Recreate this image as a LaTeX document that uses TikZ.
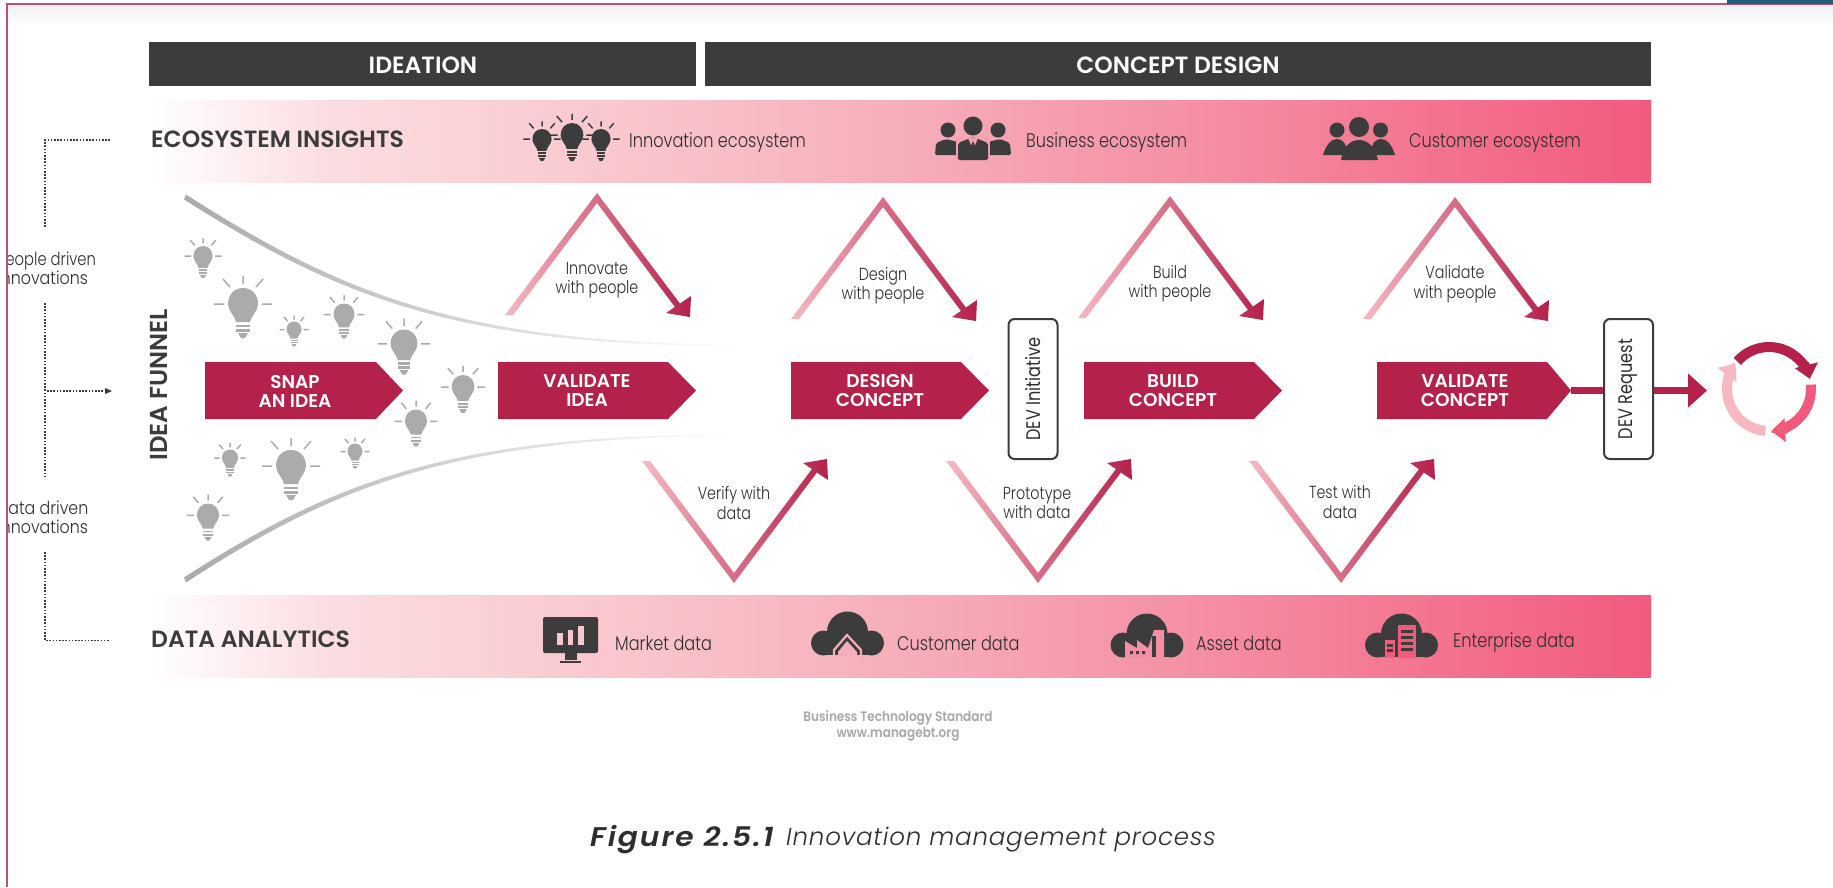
\documentclass[tikz,border=0pt]{standalone}
\usepackage{fontspec}
\usetikzlibrary{arrows.meta}
\setmainfont{Poppins}
\newfontfamily\lightf{Poppins Light}[FakeStretch=0.82]
\newfontfamily\sidef{Poppins Light}[FakeStretch=0.88]
\newfontfamily\regf{Poppins}[FakeStretch=0.82]
\newfontfamily\boldf{Poppins SemiBold}[FakeStretch=0.88]
\newfontfamily\headf{Poppins SemiBold}[FakeStretch=1.0]
\newfontfamily\capb{Poppins SemiBold Italic}[FakeStretch=1.1,LetterSpace=7]
\newfontfamily\capi{Poppins Light Italic}[LetterSpace=3.3]
\definecolor{crim}{HTML}{B4214A}
\definecolor{dark}{HTML}{3C3C3C}
\definecolor{ink}{HTML}{2E2E2E}
\definecolor{bulbg}{HTML}{ABABAB}
\definecolor{frameC}{HTML}{B5527F}
\definecolor{tabC}{HTML}{1F5F78}
\definecolor{F9C8CE}{HTML}{F9C8CE}
\definecolor{FBDDE1}{HTML}{FBDDE1}
\definecolor{F6AEBA}{HTML}{F6AEBA}
\definecolor{F58FA3}{HTML}{F58FA3}
\definecolor{F25A7C}{HTML}{F25A7C}
\definecolor{F7B8C2}{HTML}{F7B8C2}
\definecolor{DC6C86}{HTML}{DC6C86}
\definecolor{C4C4C4}{HTML}{C4C4C4}
\definecolor{A8A8A8}{HTML}{A8A8A8}
\definecolor{F0F0F0}{HTML}{F0F0F0}
\definecolor{bizcut}{HTML}{F5A0B0}
\pgfdeclarehorizontalshading{bandshade}{100bp}{color(0bp)=(white);color(25bp)=(white);color(31bp)=(FBDDE1);color(40bp)=(F9C8CE);color(50bp)=(F6AEBA);color(60bp)=(F58FA3);color(75bp)=(F25A7C);color(100bp)=(F25A7C)}
\tikzset{
  headbar/.style={fill=dark},
  headtext/.style={text=white,font=\headf\fontsize{23.5}{26}\selectfont},
  rowtext/.style={text=dark,anchor=west,font=\headf\fontsize{23.5}{26}\selectfont},
  icontext/.style={text=ink,anchor=west,font=\lightf\fontsize{19.7}{22}\selectfont},
  lbl/.style={text=ink,align=center,font=\lightf\fontsize{17.5}{19.5}\selectfont},
  sidelbl/.style={text=ink,align=left,anchor=west,font=\sidef\fontsize{18}{19.5}\selectfont},
  chevtext/.style={text=white,align=center,font=\headf\fontsize{18.5}{19}\selectfont},
  devbox/.style={draw=dark,line width=2,fill=white,rounded corners=6,minimum width=140,minimum height=49,rotate=90,inner sep=0,text=ink,font=\regf\fontsize{19.7}{24}\selectfont},
  dots/.style={draw=dark,line width=1.6,dash pattern=on 1.6 off 1.6},
  ico/.style={fill=dark,draw=none},
}
\newcommand{\chev}[6]{%
  \fill[crim] (#2,362) -- (#3,362) -- (#4,390.5) -- (#3,419) -- (#2,419) -- cycle;
  \coordinate (#1tip) at (#4,390.5);
  \node[chevtext] (#1) at (#5,391) {#6};
}
\newcommand{\zig}[3]{%
  \begin{scope}[shift={(#1,#2)},yscale=#3]
  \shade[left color=F7B8C2,middle color=DC6C86,right color=crim]
    (0,0) -- (82.9,110.5) -- (94,103) -- (93,124) -- (69,120) -- (77.9,113.9) -- (0,10)
    -- (-84,122) -- (-92,122) -- cycle;
  \end{scope}
}
\newcommand{\bulb}[4]{%
  \begin{scope}[shift={(#1,#2)},scale=#3/50]
  \fill[#4] (0,-25) .. controls (9,-25) and (15,-18) .. (15,-9) .. controls (15,-2) and (8,3) .. (7,9)
     -- (-7,9) .. controls (-8,3) and (-15,-2) .. (-15,-9) .. controls (-15,-18) and (-9,-25) .. (0,-25) -- cycle;
  \fill[#4] (-7,11.5) rectangle (7,14);
  \fill[#4] (-7,16) rectangle (7,18.5);
  \fill[#4] (-5,20) -- (5,20) -- (2,25) -- (-2,25) -- cycle;
  \draw[#4,line width=1.5] (0,-37) -- (0,-29) (13,-26) -- (20,-34) (-13,-26) -- (-20,-34)
     (19,-9) -- (29,-9) (-19,-9) -- (-29,-9);
  \end{scope}
}
\newcommand{\cloudico}[2]{%
  \begin{scope}[shift={(#1,#2)}]
  \fill[dark] (0,-2) circle[radius=20.5];
  \fill[dark] (-24,9) circle[radius=12.5];
  \fill[dark] (24,9) circle[radius=12.5];
  \fill[dark] (-24,10) rectangle (24,21);
  \end{scope}
}
\begin{document}
\begin{tikzpicture}[x=1pt,y=-1pt]
\useasboundingbox (0,0) rectangle (1833,887);
\fill[white] (0,0) rectangle (1833,887);
\shade[top color=F0F0F0,bottom color=white] (8,5) rectangle (1833,26);
\draw[frameC,line width=1.8] (7,887) -- (7,4) -- (1833,4);
\fill[tabC] (1727,0) rectangle (1833,3.5);
\fill[headbar] (149,42) rectangle (696,86);
\fill[headbar] (705,42) rectangle (1651,86);
\node[headtext] (ideation) at (423,65) {IDEATION};
\node[headtext] (concept) at (1178,65) {CONCEPT DESIGN};
\shade[shading=bandshade] (149,100) rectangle (1651,182);
\shade[shading=bandshade] (149,595) rectangle (1651,677);
\node[rowtext,inner sep=0] (eco) at (151,139.5) {ECOSYSTEM INSIGHTS};
\node[rowtext,inner sep=0] (dataa) at (151,639.5) {DATA ANALYTICS};
\bulb{542}{145}{32}{dark}
\bulb{572}{142}{38}{dark}
\bulb{601}{145}{32}{dark}
\node[icontext,inner sep=0] (innoeco) at (629,143) {Innovation ecosystem};
\fill[ico] (948,130) circle[radius=7.5];
\fill[ico] (998,130) circle[radius=7.5];
\fill[ico] (973,126) circle[radius=9.5];
\fill[ico,rounded corners=2] (935,155) -- (936,143) -- (946,139) -- (962,143) -- (962,155) -- cycle;
\fill[ico,rounded corners=2] (1011,155) -- (1010,143) -- (1000,139) -- (984,143) -- (984,155) -- cycle;
\fill[bizcut] (956,137.5) rectangle (990,161);
\fill[ico,rounded corners=2] (958,160) -- (958,143) -- (973,137) -- (988,143) -- (988,160) -- cycle;
\fill[bizcut] (968,138) -- (978,138) -- (973,150) -- cycle;
\fill[ico] (973,141) -- (975,146) -- (973,151) -- (971,146) -- cycle;
\node[icontext,inner sep=0] (buseco) at (1026,143) {Business ecosystem};
\fill[ico] (1337,130) circle[radius=7.5];
\fill[ico] (1380.5,130) circle[radius=7.5];
\fill[ico] (1359,127) circle[radius=10];
\fill[ico] (1323,155) .. controls (1326,145) and (1331,139) .. (1337,139) .. controls (1343,139) and (1346,143) .. (1348,155) -- cycle;
\fill[ico] (1395,155) .. controls (1392,145) and (1387,139) .. (1381,139) .. controls (1375,139) and (1372,143) .. (1370,155) -- cycle;
\fill[ico] (1341,160) .. controls (1343,147) and (1350,140) .. (1359,140) .. controls (1368,140) and (1375,147) .. (1378,160) -- cycle;
\node[icontext,inner sep=0] (cuseco) at (1409,143) {Customer ecosystem};
\fill[ico,rounded corners=2] (543,617) rectangle (598,653);
\fill[ico] (565,653) rectangle (577,660);
\fill[ico] (560,660.5) rectangle (581,663);
\fill[F9C8CE] (557,633) rectangle (563,645);
\fill[F9C8CE] (568,630) rectangle (573,645);
\fill[F9C8CE] (578,626) rectangle (583.5,645);
\node[icontext,inner sep=0] (market) at (615,643) {Market data};
\cloudico{847.5}{634}
\draw[F6AEBA,line width=2.2] (834,655) -- (834,650) -- (847,635) -- (861,650) -- (861,655);
\fill[F6AEBA] (838,656) -- (838,652) -- (847,641) -- (857,652) -- (857,656) -- cycle;
\node[icontext,inner sep=0] (custd) at (897,643) {Customer data};
\cloudico{1147}{636}
\fill[F58FA3] (1125,657.5) -- (1125,641) -- (1137,648) -- (1137,640) -- (1148,648) -- (1154,630) -- (1164,630) -- (1164,657.5) -- cycle;
\fill[dark] (1130,651) rectangle (1133,654) (1136,651) rectangle (1139,654) (1142,651) rectangle (1145,654);
\fill[dark] (1152,636) -- (1156,636) -- (1156,657) -- (1152,657) -- cycle;
\node[icontext,inner sep=0] (asset) at (1196,643) {Asset data};
\cloudico{1401.5}{636}
\fill[F25A7C] (1385,657.5) rectangle (1395,640);
\fill[F25A7C] (1398,657.5) rectangle (1416,625);
\foreach \yy in {630,636,642,648}{\fill[dark] (1401,\yy) rectangle (1413,\yy+3);}
\foreach \yy in {644,649}{\fill[dark] (1387,\yy) rectangle (1393,\yy+3);}
\node[icontext,inner sep=0] (ent) at (1453,643) {Enterprise data};
\shade[left color=bulbg,middle color=C4C4C4,right color=white]
  (186,194.5) .. controls (340,293) and (460,344) .. (742,344.5) -- (742,345.5) .. controls (460,347) and (340,298) .. (184,199.5) -- cycle;
\shade[left color=bulbg,middle color=C4C4C4,right color=white]
  (184,577.5) .. controls (340,477) and (460,434) .. (742,434.5) -- (742,435.5) .. controls (460,437) and (340,482) .. (186,582.5) -- cycle;
\bulb{203}{262}{32}{bulbg}
\bulb{243}{313}{50}{bulbg}
\bulb{294}{334}{25}{bulbg}
\bulb{344}{321}{35}{bulbg}
\bulb{404}{352}{45}{bulbg}
\bulb{463}{394}{38}{bulbg}
\bulb{416}{428}{37}{bulbg}
\bulb{230}{463}{27}{bulbg}
\bulb{291}{475}{50}{bulbg}
\bulb{355}{456}{25}{bulbg}
\bulb{208}{522}{37}{bulbg}
\node[rotate=90,text=dark,font=\headf\fontsize{24.5}{28}\selectfont,inner sep=0] (funnel) at (159,385) {IDEA FUNNEL};
\chev{snap}{205}{376}{403}{295}{SNAP\\AN IDEA}
\chev{vali}{498}{668}{696}{587}{VALIDATE\\IDEA}
\chev{desc}{791}{961}{989}{880}{DESIGN\\CONCEPT}
\chev{buic}{1084}{1254}{1282}{1173}{BUILD\\CONCEPT}
\chev{valc}{1377}{1547}{1571}{1465}{VALIDATE\\CONCEPT}
\zig{597}{193}{1}
\zig{883}{197}{1}
\zig{1170}{196}{1}
\zig{1455}{197}{1}
\zig{734}{583}{-1}
\zig{1038}{583}{-1}
\zig{1341}{583}{-1}
\node[lbl] (l1) at (597,280) {Innovate\\with people};
\node[lbl] (l2) at (883,285.5) {Design\\with people};
\node[lbl] (l3) at (1170,283.5) {Build\\with people};
\node[lbl] (l4) at (1455,284) {Validate\\with people};
\node[lbl] (l5) at (734,503) {Verify with\\data};
\node[lbl] (l6) at (1037,503) {Prototype\\with data};
\node[lbl] (l7) at (1340,502) {Test with\\data};
\coordinate (outtip) at (1707,390.5);
\draw[crim,line width=7,-{Triangle[length=19,width=33]}] (valctip) -- (outtip);
\node[devbox] (devi) at (1033,389) {DEV Initiative};
\node[devbox] (devr) at (1628.5,389) {DEV Request};
\coordinate (cyc) at (1769,389);
\draw[crim,line width=10,-{Triangle[length=14,width=23]}] (cyc) ++(-139:42) arc[start angle=-139,end angle=-14,radius=42];
\draw[F25A7C,line width=10,-{Triangle[length=14,width=23]}] (cyc) ++(-6:42) arc[start angle=-6,end angle=87,radius=42];
\draw[F7B8C2,line width=10,-{Triangle[length=14,width=23]}] (cyc) ++(95:42) arc[start angle=95,end angle=217,radius=42];
\begin{scope}
\clip (8,200) rectangle (120,560);
\node[sidelbl,inner sep=0] (sl1) at (-3,268.5) {{\lightf People driven}\\Innovations};
\node[sidelbl,inner sep=0] (sl2) at (-3,517.5) {Data driven\\Innovations};
\end{scope}
\draw[dots] (110,140) -- (45,140) -- (45,228);
\draw[dots] (45,303) -- (45,479);
\draw[dots] (47,391) -- (106,391);
\fill[dark] (105,388) -- (112,391) -- (105,394) -- cycle;
\draw[dots] (45,552) -- (45,640.5) -- (110,640.5);
\node[text=A8A8A8,align=center,font=\boldf\fontsize{13.7}{16.5}\selectfont] (cred) at (898,726) {Business Technology Standard\\www.managebt.org};
\node[anchor=west,inner sep=0,text=ink,font=\capb\fontsize{27}{30}\selectfont] (capa) at (590,840) {Figure 2.5.1};
\node[anchor=west,inner sep=0,text=ink,font=\capi\fontsize{24.5}{30}\selectfont] (capc) at (786,840) {Innovation management process};
\end{tikzpicture}
\end{document}
